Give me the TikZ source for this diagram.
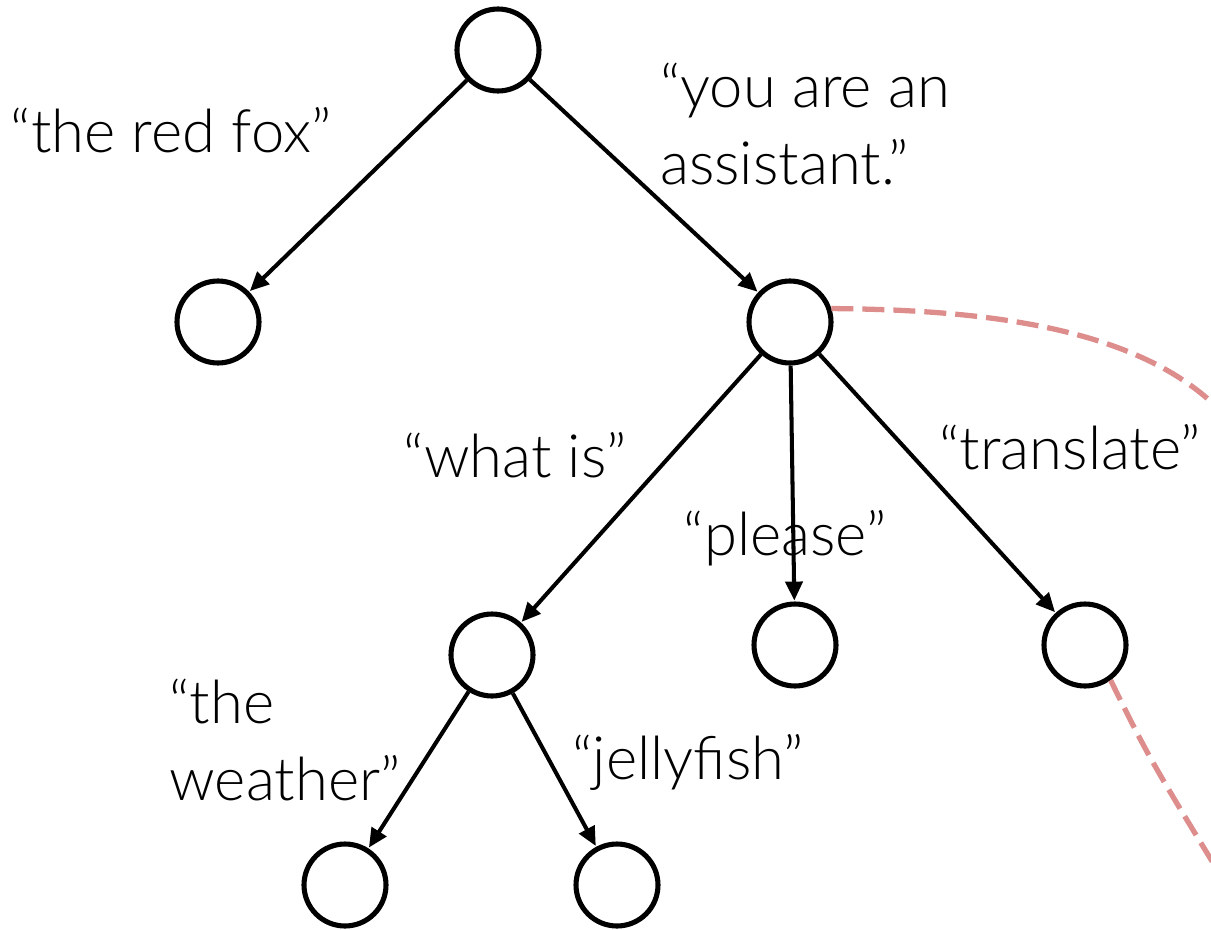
\documentclass[tikz,border=0pt]{standalone}
\usepackage{fontspec}
\setmainfont{Lato}[UprightFont=* Light]
\usepackage{tikz}
\usetikzlibrary{arrows.meta, positioning}
\definecolor{PRpink}{RGB}{221,142,140}

\begin{document}
\begin{tikzpicture}[x=0.02cm, y=-0.02cm,
    state/.style={circle, draw, line width=2.9pt, minimum size=1.64cm, inner sep=0pt},
    branch/.style={line width=2.3pt, -{Triangle[length=0.38cm, width=0.34cm]}, shorten >=0.5pt},
    lbl/.style={font=\fontsize{34}{44}\selectfont, inner sep=0pt},
    link/.style={PRpink, line width=3pt, dash pattern=on 0.44cm off 0.18cm}]
  \useasboundingbox (0,0) rectangle (1211,930);
  \clip (0,0) rectangle (1211,930);

  % prefix tree
  \node[state] (root) at (498,50) {};
  \node[state] (fox) at (218,322) {};
  \node[state] (asst) at (790,322) {};
  \node[state] (what) at (492,655) {};
  \node[state] (please) at (795,645) {};
  \node[state] (transl) at (1085,645) {};
  \node[state] (weather) at (345,885) {};
  \node[state] (jelly) at (617,885) {};

  \foreach \a/\b in {root/fox, root/asst, asst/what, asst/please, asst/transl, what/weather, what/jelly}
    \draw[branch] (\a) -- (\b);

  % token labels
  \node[lbl] (lfox) at (171,130) {“the red fox”};
  \node[lbl, align=left] (lasst) at (805,124) {“you are an\\assistant.”};
  \node[lbl] (lwhat) at (515,455) {“what is”};
  \node[lbl] (lplease) at (785,538) {“please”};
  \node[lbl] (ltransl) at (1070,447) {“translate”};
  \node[lbl, align=left] (lweather) at (285,740) {“the\\weather”};
  \node[lbl] (ljelly) at (688,762) {“jellyfish”};

  % links leaving to the right
  \coordinate (outA) at (1260,470);
  \coordinate (outB) at (1245,915);
  \draw[link] (asst.18) .. controls (1000,310) and (1200,330) .. (outA);
  \draw[link] (transl.-54) .. controls (1150,760) .. (outB);
\end{tikzpicture}
\end{document}
